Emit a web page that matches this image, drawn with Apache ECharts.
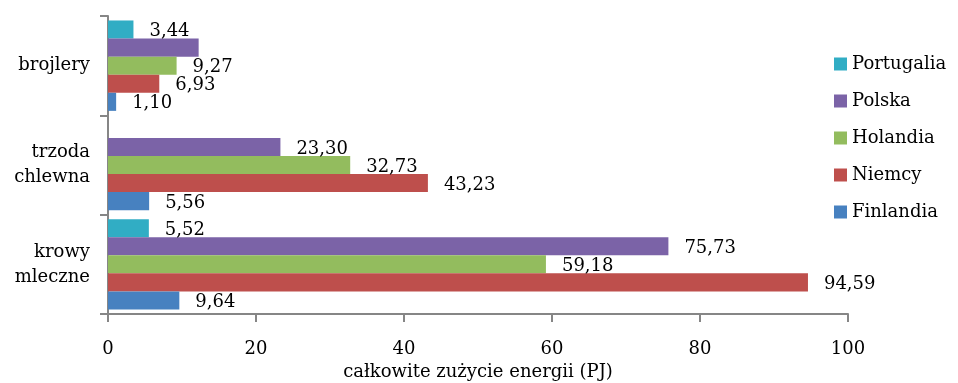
<!DOCTYPE html>
<html>
<head>
<meta charset="utf-8">
<script src="https://cdn.jsdelivr.net/npm/echarts@6/dist/echarts.min.js"></script>
<style>
  html, body { margin: 0; padding: 0; background: #fff; }
  #chart { width: 958px; height: 383px; }
</style>
</head>
<body>
<div id="chart"></div>
<script>
// Categories, bottom to top on the vertical axis
const categories = ['krowy\nmleczne', 'trzoda\nchlewna', 'brojlery'];

// Total energy use (PJ) per country, in category order above
const finlandia  = [9.64, 5.56, 1.10];
const niemcy     = [94.59, 43.23, 6.93];
const holandia   = [59.18, 32.73, 9.27];
const polska     = [75.73, 23.30, 12.25];
const portugalia = [5.52, null, 3.44];

// Values printed without a label
const hiddenLabels = { Polska: [2] };

const xTicks = { min: 0, max: 100, interval: 20 };

const FONT = 'DejaVu Serif';

function fmt(v) {
  return v.toFixed(2).replace('.', ',');
}

function makeSeries(name, values, color) {
  const hidden = hiddenLabels[name] || [];
  return {
    name: name,
    type: 'bar',
    barGap: '0%',
    barCategoryGap: '9%',
    itemStyle: { color: color },
    data: values.map((v, i) => ({
      value: v,
      label: { show: v != null && hidden.indexOf(i) < 0 }
    })),
    label: {
      position: 'right',
      distance: 16,
      offset: [0, 2],
      color: '#000',
      fontFamily: FONT,
      fontSize: 18,
      formatter: p => (p.value == null ? '' : fmt(p.value))
    }
  };
}

const chart = echarts.init(document.getElementById('chart'), null, { renderer: 'canvas' });

chart.setOption({
  animation: false,
  backgroundColor: '#fff',
  textStyle: { fontFamily: FONT, color: '#000' },
  grid: { left: 108, right: 110, top: 16, bottom: 69, outerBoundsMode: 'none', containLabel: false },
  legend: {
    orient: 'vertical',
    left: 829,
    top: 49,
    itemWidth: 13,
    itemHeight: 13,
    itemGap: 17,
    icon: 'rect',
    textStyle: { fontFamily: FONT, fontSize: 18, color: '#000', lineHeight: 20 },
    data: ['Portugalia', 'Polska', 'Holandia', 'Niemcy', 'Finlandia']
  },
  xAxis: {
    type: 'value',
    min: xTicks.min,
    max: xTicks.max,
    interval: xTicks.interval,
    name: 'całkowite zużycie energii (PJ)',
    nameLocation: 'middle',
    nameGap: 49,
    nameTextStyle: { fontFamily: FONT, fontSize: 18, color: '#000', verticalAlign: 'top' },
    axisLine: { show: true, lineStyle: { color: '#868686', width: 2 } },
    axisTick: { show: true, length: 8, lineStyle: { color: '#868686', width: 2 } },
    axisLabel: { fontFamily: FONT, fontSize: 18, color: '#000', margin: 26 },
    splitLine: { show: false }
  },
  yAxis: {
    type: 'category',
    data: categories,
    axisLine: { show: true, lineStyle: { color: '#868686', width: 2 } },
    axisTick: { show: true, length: 8, lineStyle: { color: '#868686', width: 2 } },
    axisLabel: { fontFamily: FONT, fontSize: 18, color: '#000', margin: 18, lineHeight: 25, align: 'right' }
  },
  series: [
    makeSeries('Portugalia', portugalia, '#31ADC4'),
    makeSeries('Polska', polska, '#7B63A7'),
    makeSeries('Holandia', holandia, '#93BC5E'),
    makeSeries('Niemcy', niemcy, '#BE4F4C'),
    makeSeries('Finlandia', finlandia, '#4781C0')
  ]
});
</script>
</body>
</html>
